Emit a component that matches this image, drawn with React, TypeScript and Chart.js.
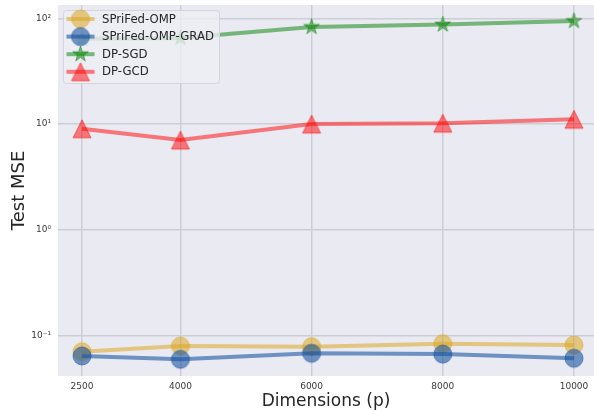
import React, { useEffect, useRef } from 'react';
import { Chart, registerables } from 'chart.js';

Chart.register(...registerables);

// ---- data ----
const dimensions = [2500, 4000, 6000, 8000, 10000];
const ompMSE = [0.0706, 0.0799, 0.0788, 0.084, 0.0817];
const ompGradMSE = [0.0643, 0.0598, 0.0682, 0.067, 0.0612];
const dpSgdMSE = [64, 65, 82.8, 87.2, 94.3];
const dpGcdMSE = [9.03, 7.06, 10.0, 10.2, 11.1];
const seriesNames = ['SPriFed-OMP', 'SPriFed-OMP-GRAD', 'DP-SGD', 'DP-GCD'];
const xTickValues = [2500, 4000, 6000, 8000, 10000];
const yTickValues = [0.1, 1, 10, 100];
const yTickLabels = ['10\u207B\u00B9', '10\u2070', '10\u00B9', '10\u00B2'];

const FONT = 'DejaVu Sans';

function makeMarker(shape: string, size: number, fill: string): HTMLCanvasElement {
  const pad = 2;
  const dim = Math.ceil(size + pad * 2);
  const c = document.createElement('canvas');
  c.width = dim;
  c.height = dim;
  const ctx = c.getContext('2d')!;
  const cx = dim / 2;
  const cy = dim / 2;
  const r = size / 2;
  ctx.beginPath();
  if (shape === 'circle') {
    ctx.arc(cx, cy, r, 0, Math.PI * 2);
  } else if (shape === 'triangle') {
    ctx.moveTo(cx, cy - r);
    ctx.lineTo(cx + r, cy + r);
    ctx.lineTo(cx - r, cy + r);
    ctx.closePath();
  } else {
    for (let i = 0; i < 10; i++) {
      const rad = i % 2 === 0 ? r : r * 0.382;
      const a = -Math.PI / 2 + (i * Math.PI) / 5;
      const px = cx + rad * Math.cos(a);
      const py = cy + rad * Math.sin(a);
      if (i === 0) ctx.moveTo(px, py);
      else ctx.lineTo(px, py);
    }
    ctx.closePath();
  }
  ctx.fillStyle = fill;
  ctx.fill();
  ctx.lineWidth = 1;
  ctx.strokeStyle = fill;
  ctx.stroke();
  return c;
}

const bgPlugin = {
  id: 'plotBg',
  beforeDraw(chart: any) {
    const { ctx, chartArea } = chart;
    ctx.save();
    ctx.fillStyle = '#EAEAF2';
    ctx.fillRect(chartArea.left, chartArea.top, chartArea.right - chartArea.left, chartArea.bottom - chartArea.top);
    ctx.restore();
  },
};

const legendPlugin = {
  id: 'boxLegend',
  afterDraw(chart: any) {
    const { ctx, chartArea } = chart;
    const bx = chartArea.left + 5.5;
    const by = chartArea.top + 5.5;
    const bw = 156;
    const bh = 73;
    const rr = 3;
    ctx.save();
    ctx.beginPath();
    ctx.moveTo(bx + rr, by);
    ctx.lineTo(bx + bw - rr, by);
    ctx.arcTo(bx + bw, by, bx + bw, by + rr, rr);
    ctx.lineTo(bx + bw, by + bh - rr);
    ctx.arcTo(bx + bw, by + bh, bx + bw - rr, by + bh, rr);
    ctx.lineTo(bx + rr, by + bh);
    ctx.arcTo(bx, by + bh, bx, by + bh - rr, rr);
    ctx.lineTo(bx, by + rr);
    ctx.arcTo(bx, by, bx + rr, by, rr);
    ctx.closePath();
    ctx.fillStyle = 'rgba(238,238,244,0.8)';
    ctx.fill();
    ctx.lineWidth = 1;
    ctx.strokeStyle = '#D4D4DA';
    ctx.stroke();

    chart.data.datasets.forEach((ds: any, i: number) => {
      const y = by + 8.5 + i * 17.6;
      ctx.beginPath();
      ctx.moveTo(bx + 3, y);
      ctx.lineTo(bx + 31, y);
      ctx.lineWidth = ds.borderWidth;
      ctx.strokeStyle = ds.borderColor;
      ctx.stroke();
      const img = ds.pointStyle as HTMLCanvasElement;
      ctx.drawImage(img, bx + 17 - img.width / 2, y - img.height / 2);
      ctx.fillStyle = '#262626';
      ctx.font = `11.7px "${FONT}"`;
      ctx.textBaseline = 'middle';
      ctx.textAlign = 'left';
      ctx.fillText(ds.label, bx + 38.5, y + 0.5);
    });
    ctx.restore();
  },
};

export default function App() {
  const ref = useRef<HTMLCanvasElement>(null);

  useEffect(() => {
    const canvas = ref.current!;
    const colors = [
      'rgba(218,165,32,0.55)',
      'rgba(25,85,160,0.6)',
      'rgba(0,128,0,0.5)',
      'rgba(255,0,0,0.5)',
    ];
    const shapes = ['circle', 'circle', 'star', 'triangle'];
    const sizes = [18, 18, 16.5, 18];
    const series = [ompMSE, ompGradMSE, dpSgdMSE, dpGcdMSE];

    const datasets = series.map((vals, i) => ({
      label: seriesNames[i],
      data: dimensions.map((d, j) => ({ x: d, y: vals[j] })),
      borderColor: colors[i],
      borderWidth: 4,
      pointStyle: makeMarker(shapes[i], sizes[i], colors[i]),
      pointRadius: 9,
      tension: 0,
      fill: false,
      order: 4 - i,
      clip: false as any,
    }));

    const chart = new Chart(canvas, {
      type: 'line',
      data: { datasets },
      plugins: [bgPlugin, legendPlugin],
      options: {
        responsive: false,
        animation: false,
        devicePixelRatio: 1,
        layout: { autoPadding: false, padding: { top: 5, left: 0, right: 0, bottom: 0 } },
        plugins: {
          legend: { display: false },
          tooltip: { enabled: false },
        },
        scales: {
          x: {
            type: 'linear',
            min: 2134,
            max: 10305,
            afterBuildTicks: (scale: any) => {
              scale.ticks = xTickValues.map((v) => ({ value: v }));
            },
            afterFit: (scale: any) => {
              scale.height = 35;
              scale.paddingLeft = 0;
              scale.paddingRight = 0;
            },
            grid: { color: '#CDCDD5', lineWidth: 1.5, drawTicks: false },
            border: { display: false },
            ticks: {
              padding: 5,
              color: '#3a3a3a',
              font: { family: FONT, size: 9 },
              maxRotation: 0,
              callback: (v: any) => String(v),
            },
            title: {
              display: true,
              text: 'Dimensions (p)',
              color: '#262626',
              font: { family: FONT, size: 17, lineHeight: 1.1 },
              padding: { top: 0, bottom: 0 },
            },
          },
          y: {
            type: 'logarithmic',
            min: 0.0416,
            max: 133.6,
            afterBuildTicks: (scale: any) => {
              scale.ticks = yTickValues.map((v) => ({ value: v }));
            },
            afterFit: (scale: any) => {
              scale.width = 58;
              scale.paddingTop = 0;
              scale.paddingBottom = 0;
            },
            grid: { color: '#CDCDD5', lineWidth: 1.5, drawTicks: false },
            border: { display: false },
            ticks: {
              padding: 7,
              color: '#3a3a3a',
              font: { family: FONT, size: 9 },
              callback: (_v: any, idx: number) => yTickLabels[idx],
            },
            title: {
              display: true,
              text: 'Test MSE',
              color: '#262626',
              font: { family: FONT, size: 18, lineHeight: 1.2 },
              padding: { top: 9, bottom: 0 },
            },
          },
        },
      },
    });
    return () => chart.destroy();
  }, []);

  return (
    <div style={{ position: 'absolute', left: 0, top: 0, width: 594, height: 411 }}>
      <canvas ref={ref} width={594} height={411} style={{ display: 'block', width: 594, height: 411 }} />
    </div>
  );
}
